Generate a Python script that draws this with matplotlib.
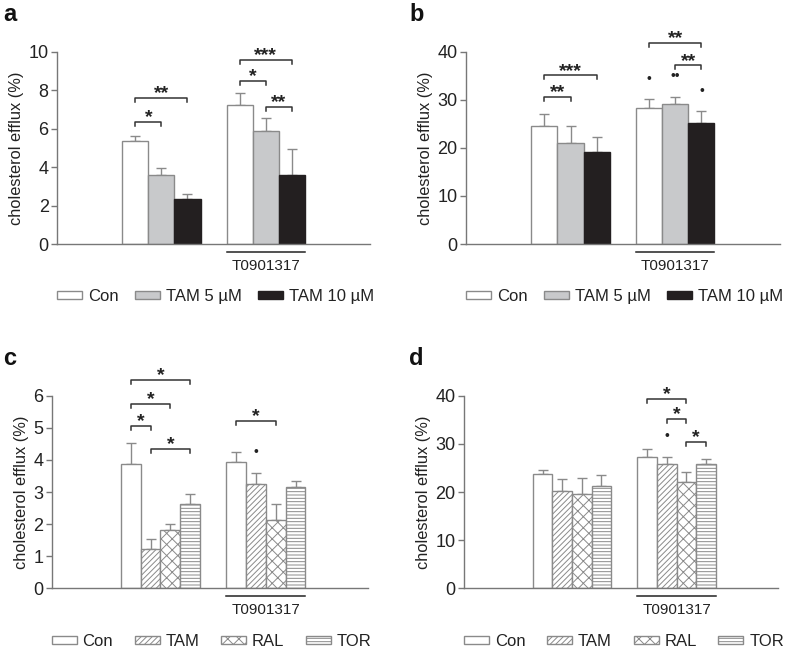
import matplotlib.pyplot as plt
import matplotlib.patches as mpatches
import matplotlib.transforms as mtransforms
import numpy as np

plt.rcParams['font.family'] = ['Liberation Sans', 'DejaVu Sans']
plt.rcParams['hatch.linewidth'] = 0.7

# ---- dados (médias e erros por série, 2 grupos: controle / T0901317) ----
a_labels = ['Con', 'TAM 5 µM', 'TAM 10 µM']
a_means = [[5.35, 7.25], [3.6, 5.9], [2.35, 3.6]]
a_errs = [[0.25, 0.6], [0.35, 0.65], [0.25, 1.35]]
a_sig = [(0, 0, 1, 6.36, '*'), (0, 0, 2, 7.6, '**'),
         (1, 0, 1, 8.5, '*'), (1, 0, 2, 9.57, '***'), (1, 1, 2, 7.14, '**')]

b_labels = a_labels
b_means = [[24.6, 28.4], [21.1, 29.2], [19.2, 25.1]]
b_errs = [[2.5, 1.8], [3.4, 1.4], [3.1, 2.5]]
b_sig = [(0, 0, 1, 30.6, '**'), (0, 0, 2, 35.1, '***'),
         (1, 0, 2, 41.9, '**'), (1, 1, 2, 37.2, '**')]
b_dots = [(1, 0, 34.4, '•'), (1, 1, 34.9, '••'), (1, 2, 31.9, '•')]

c_labels = ['Con', 'TAM', 'RAL', 'TOR']
c_means = [[3.86, 3.93], [1.24, 3.24], [1.83, 2.13], [2.62, 3.16]]
c_errs = [[0.68, 0.33], [0.31, 0.36], [0.16, 0.49], [0.31, 0.17]]
c_sig = [(0, 0, 3, 6.49, '*'), (0, 0, 2, 5.74, '*'), (0, 0, 1, 5.06, '*'),
         (0, 1, 3, 4.33, '*'), (1, 0, 2, 5.22, '*')]
c_dots = [(1, 1, 4.25, '•')]

d_labels = c_labels
d_means = [[23.7, 27.2], [20.2, 25.9], [19.6, 22.0], [21.3, 25.8]]
d_errs = [[0.8, 1.7], [2.5, 1.3], [3.3, 2.2], [2.2, 1.1]]
d_sig = [(1, 0, 2, 39.3, '*'), (1, 1, 2, 35.1, '*'), (1, 2, 3, 30.35, '*')]
d_dots = [(1, 1, 31.7, '•')]

grey = '#8a8a8a'
styles3 = [dict(color='white', edgecolor=grey, hatch=None),
           dict(color='#c8c9cb', edgecolor=grey, hatch=None),
           dict(color='#231f20', edgecolor='#231f20', hatch=None)]
styles4 = [dict(color='white', edgecolor=grey, hatch=None),
           dict(color='white', edgecolor=grey, hatch='//////'),
           dict(color='white', edgecolor=grey, hatch='xxx'),
           dict(color='white', edgecolor=grey, hatch='-----')]

group_start = [3.0, 7.0]


def bar_x(g, i, width):
    return group_start[g] + i * width


def draw_panel(ax, labels, means, errs, styles, width, ymax, step,
               sig, dots, letter, colspace):
    handles = []
    for i, lab in enumerate(labels):
        st = styles[i]
        xs = [bar_x(g, i, width) for g in range(2)]
        ax.bar(xs, means[i], width=width, color=st['color'],
               edgecolor=st['edgecolor'], hatch=st['hatch'],
               linewidth=1.0, zorder=2)
        ax.errorbar(xs, means[i], yerr=[[0, 0], errs[i]], fmt='none',
                    ecolor=grey, elinewidth=1.0, capsize=3.5, capthick=1.0,
                    zorder=1)
        handles.append(mpatches.Patch(facecolor=st['color'],
                                      edgecolor=st['edgecolor'],
                                      hatch=st['hatch'], linewidth=1.0,
                                      label=lab))
    ax.set_xlim(0, 12)
    ax.set_ylim(0, ymax)
    ax.set_yticks(np.arange(0, ymax + step / 2, step))
    ax.set_xticks([])
    for s in ['top', 'right']:
        ax.spines[s].set_visible(False)
    for s in ['left', 'bottom']:
        ax.spines[s].set_color('#777777')
        ax.spines[s].set_linewidth(1.0)
    ax.tick_params(axis='y', colors='#777777', labelcolor='#222222',
                   labelsize=13, length=4, width=1.0, pad=2)
    ax.set_ylabel('cholesterol efflux (%)', fontsize=11.8, color='#222222',
                  labelpad=3)

    # brackets de significância
    dy = ymax * 0.02
    for g, i, j, y, txt in sig:
        x1, x2 = bar_x(g, i, width), bar_x(g, j, width)
        ax.plot([x1, x1, x2, x2], [y - dy, y, y, y - dy], color='#333333',
                lw=1.1, clip_on=False, zorder=3)
        ax.text((x1 + x2) / 2, y - ymax * 0.022, txt, ha='center',
                va='bottom', fontsize=14, fontweight='bold',
                color='#222222', clip_on=False)
    for g, i, y, txt in dots:
        ax.text(bar_x(g, i, width), y, txt, ha='center', va='center',
                fontsize=10, color='#222222', clip_on=False)

    # linha T0901317
    tr = mtransforms.blended_transform_factory(ax.transData, ax.transAxes)
    n = len(labels)
    xl = group_start[1] - width / 2
    xr = group_start[1] + (n - 1) * width + width / 2
    ax.plot([xl, xr], [-0.042, -0.042], color='#222222', lw=1.1,
            transform=tr, clip_on=False)
    ax.text((xl + xr) / 2, -0.115, 'T0901317', transform=tr, ha='center',
            va='center', fontsize=11, color='#222222')

    ax.legend(handles=handles, ncol=len(labels), loc='center left',
              bbox_to_anchor=(0, -0.275), frameon=False, fontsize=12,
              handlelength=1.5, handleheight=0.36, handletextpad=0.35,
              columnspacing=colspace, borderaxespad=0, borderpad=0,
              labelcolor='#222222')

    ax.figure.text(*letter)


fig = plt.figure(figsize=(7.87, 6.49), dpi=100)
ax_a = fig.add_axes([0.0724, 0.624, 0.398, 0.296])
ax_b = fig.add_axes([0.592, 0.624, 0.399, 0.296])
ax_c = fig.add_axes([0.0657, 0.0935, 0.402, 0.2968])
ax_d = fig.add_axes([0.5896, 0.0935, 0.399, 0.2968])

lbl = dict(fontsize=17, fontweight='bold', color='#111111', va='top')
draw_panel(ax_a, a_labels, a_means, a_errs, styles3, 1.0, 10, 2,
           a_sig, [], (0.004, 0.995, 'a', lbl), 1.0)
draw_panel(ax_b, b_labels, b_means, b_errs, styles3, 1.0, 40, 10,
           b_sig, b_dots, (0.52, 0.995, 'b', lbl), 1.0)
draw_panel(ax_c, c_labels, c_means, c_errs, styles4, 0.75, 6, 1,
           c_sig, c_dots, (0.004, 0.466, 'c', lbl), 1.3)
draw_panel(ax_d, d_labels, d_means, d_errs, styles4, 0.75, 40, 10,
           d_sig, d_dots, (0.52, 0.466, 'd', lbl), 1.3)

fig.savefig('out.png', dpi=100)
